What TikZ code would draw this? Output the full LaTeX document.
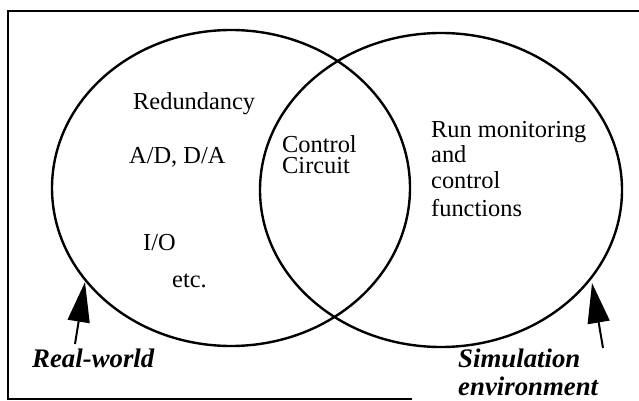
\documentclass[tikz,border=0pt]{standalone}
\usepackage{fontspec}
\setmainfont{Liberation Serif}
\usetikzlibrary{arrows.meta}
\begin{document}
\begin{tikzpicture}[x=1pt,y=-1pt,
  ring/.style={line width=2.4pt},
  frameline/.style={line width=2pt},
  plain/.style={font=\fontsize{24.4}{24.4}\selectfont,inner sep=0pt,anchor=base west},
  tag/.style={font=\fontsize{26.8}{26.8}\selectfont\bfseries\itshape,inner sep=0pt,anchor=base west},
  pointer/.style={line width=2pt,-{Triangle[length=40pt,width=22pt]}}]
  \useasboundingbox (0,0) rectangle (639,401);
  % open frame
  \draw[frameline] (412,399) -- (8,399) -- (8,11) -- (639,11);
  % the two overlapping regions
  \draw[ring] (231,188) ellipse [x radius=179, y radius=158];
  \draw[ring] (441,190) ellipse [x radius=181, y radius=157];
  % left region
  \node[plain] (red) at (133,110) {Redundancy};
  \node[plain] (ad) at (129,163) {A/D, D/A};
  \node[plain] (io) at (143,250) {I/O};
  \node[plain] (etc) at (172,287) {etc.};
  % overlap: two tightly set lines (base anchor sits on the last line)
  \node[plain,align=left,font=\fontsize{24.4}{21}\selectfont] (ctl) at (282,173) {Control\\Circuit};
  % right region
  \node[plain] (run) at (431,137) {Run monitoring};
  \node[plain] (and) at (431,162) {and};
  \node[plain] (con) at (431,188) {control};
  \node[plain] (fun) at (431,216) {functions};
  % labels with pointers
  \node[tag] (rw) at (32,367) {Real-world};
  \node[tag] (sim) at (458,367) {Simulation};
  \node[tag] (env) at (458,395) {environment};
  \coordinate (rwtail) at (75,344);
  \coordinate (rwtip) at (85,282);
  \coordinate (simtail) at (603,348);
  \coordinate (simtip) at (592,283);
  \draw[pointer] (rwtail) -- (rwtip);
  \draw[pointer] (simtail) -- (simtip);
\end{tikzpicture}
\end{document}
